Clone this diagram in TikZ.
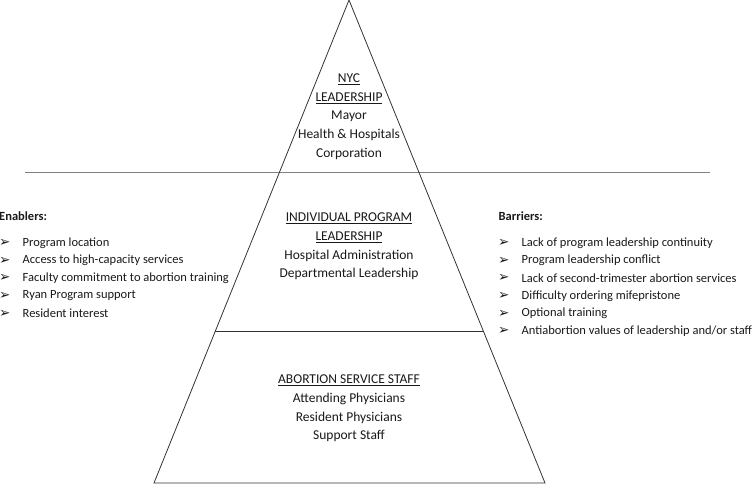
\documentclass[tikz,border=0pt]{standalone}
\usepackage{fontspec}
\setmainfont{Carlito}
\newfontfamily\symfont{DejaVu Sans}
\begin{document}
\begin{tikzpicture}[x=1pt,y=-1pt,
  txt/.style={inner sep=0pt,font=\fontsize{13.5}{18.7}\selectfont,align=center,text=black!90},
  item/.style={inner sep=0pt,anchor=west,font=\fontsize{12.5}{14}\selectfont,text=black!90},
  bul/.style={inner sep=0pt,anchor=west,font=\symfont\fontsize{13.5}{14}\selectfont,text=black!90},
  edge/.style={draw=black!80,line width=0.8pt},
  sep/.style={draw=black!50,line width=1.3pt}]
\useasboundingbox (0,0) rectangle (753,485);
% pyramid
\coordinate (apex) at (349,0);
\coordinate (bl) at (154,483);
\coordinate (br) at (545,483);
\draw[sep] (25,172.5) -- (710,172.5);
\draw[edge] (apex) -- (bl) -- (br) -- cycle;
\draw[edge] (215.4,331) -- (483.3,331);
% tiers
\node[txt] (t1) at (349,116.7) {\underline{NYC}\\\underline{LEADERSHIP}\\Mayor\\Health \& Hospitals\\Corporation};
\node[txt] (t2) at (349,246.5) {\underline{INDIVIDUAL PROGRAM}\\\underline{LEADERSHIP}\\Hospital Administration\\Departmental Leadership};
\node[txt] (t3) at (349,408.5) {\underline{ABORTION SERVICE STAFF}\\Attending Physicians\\Resident Physicians\\Support Staff};
% enablers
\node[item,font=\fontsize{12.5}{14}\selectfont\bfseries] (en) at (-1,216.5) {Enablers:};
\foreach \t [count=\i] in {Program location,Access to high-capacity services,Faculty commitment to abortion training,Ryan Program support,Resident interest}{
  \node[bul] (eb\i) at (-1,243+17.6*\i-17.6) {➢};
  \node[item] (e\i) at (22.5,243+17.6*\i-17.6) {\t};
}
% barriers
\node[item,font=\fontsize{12.5}{14}\selectfont\bfseries] (ba) at (498.5,216) {Barriers:};
\foreach \t [count=\i] in {Lack of program leadership continuity,Program leadership conflict,Lack of second-trimester abortion services,Difficulty ordering mifepristone,Optional training,Antiabortion values of leadership and/or staff}{
  \node[bul] (bb\i) at (498,243+17.6*\i-17.6) {➢};
  \node[item] (b\i) at (521.5,243+17.6*\i-17.6) {\t};
}
\end{tikzpicture}
\end{document}
